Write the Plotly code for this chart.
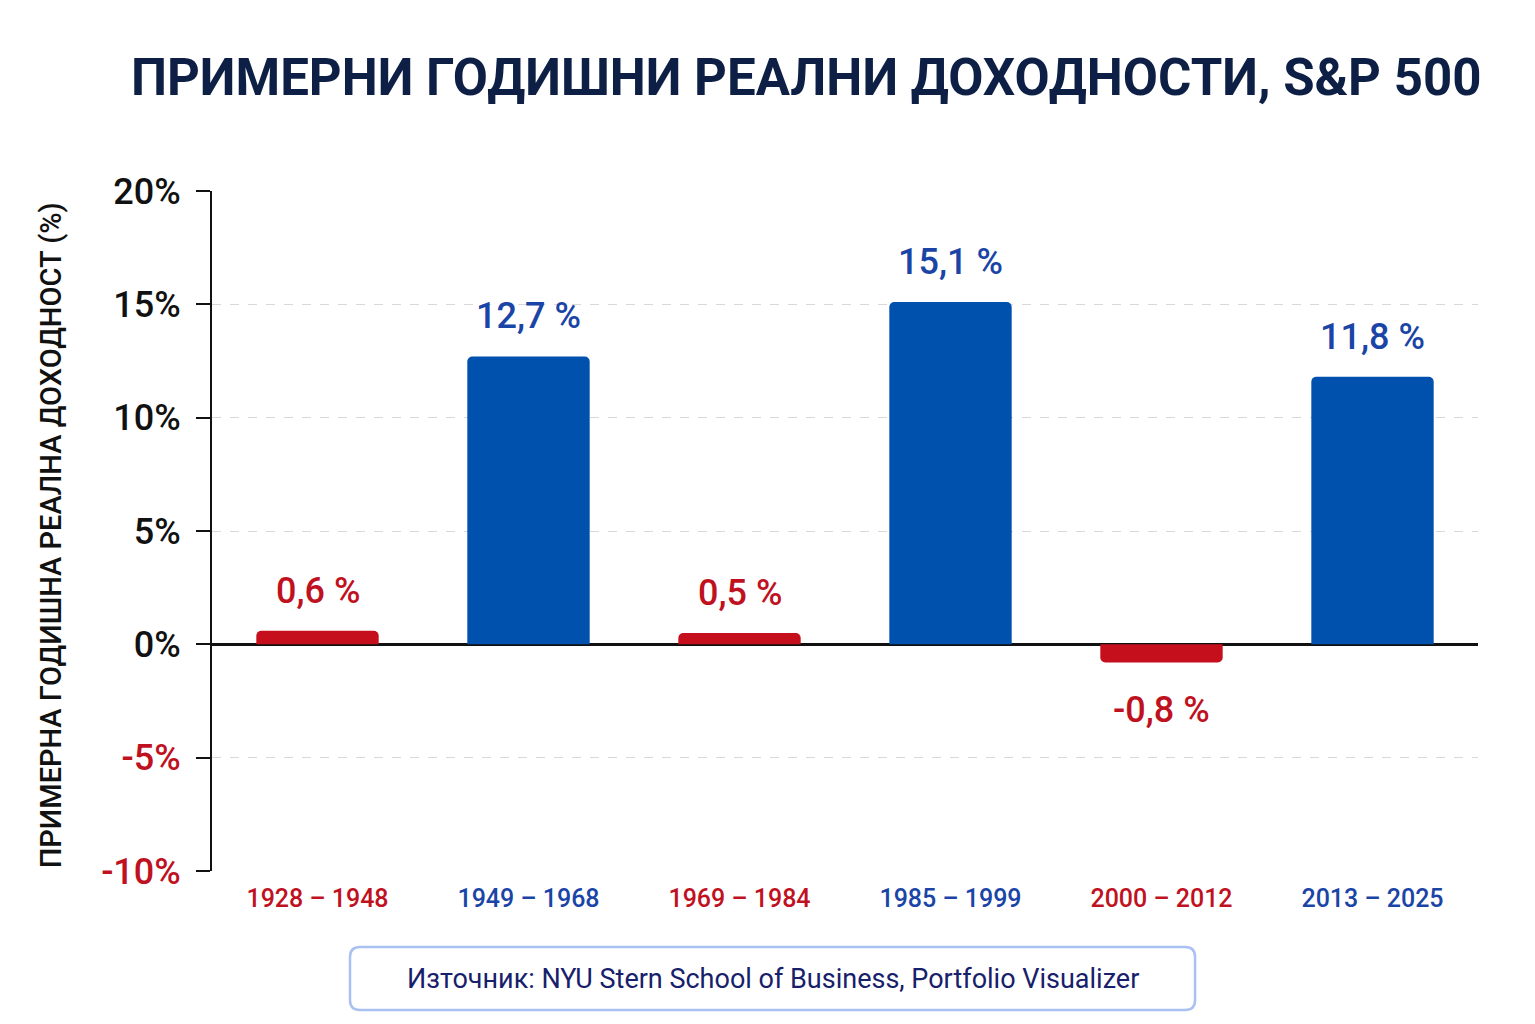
import plotly.graph_objects as go

# data
periods = ['1928 – 1948', '1949 – 1968', '1969 – 1984', '1985 – 1999', '2000 – 2012', '2013 – 2025']
returns = [0.6, 12.7, 0.5, 15.1, -0.8, 11.8]
y_ticks = [-10, -5, 0, 5, 10, 15, 20]

RED = '#c50f1c'
BLUE = '#0051ad'
RED_TXT = '#c0111f'
BLUE_TXT = '#1a45a6'
NAVY = '#0d1f45'

# colour by sign / size
bar_col = [BLUE if v > 5 else RED for v in returns]
txt_col = [BLUE_TXT if v > 5 else RED_TXT for v in returns]
labels = [('%.1f' % v).replace('.', ',') + ' %' for v in returns]

fig = go.Figure()
fig.add_trace(go.Bar(
    x=list(range(len(periods))), y=returns,
    marker=dict(color=bar_col, cornerradius=5, line=dict(width=0)),
    width=0.58, hoverinfo='skip',
))

# value labels, pushed a bit away from the bar ends
for i, v in enumerate(returns):
    fig.add_annotation(
        x=i, y=v, text=labels[i], showarrow=False,
        yanchor='middle', yshift=40 if v >= 0 else -48,
        font=dict(family='Roboto', size=36, color=txt_col[i], weight=500),
    )

x_text = ["<span style='color:%s'>%s</span>" % (c, p) for p, c in zip(periods, txt_col)]
y_text = ["<span style='color:%s'>%d%%</span>" % (RED_TXT if t < 0 else '#111111', t) for t in y_ticks]

fig.update_xaxes(
    range=[-0.5, 5.5], tickvals=list(range(len(periods))), ticktext=x_text,
    tickfont=dict(family='Roboto', size=25, weight=500), showgrid=False, showline=False,
    ticks='', zeroline=False, ticklabelstandoff=10,
)
fig.update_yaxes(
    range=[-10, 20], tickvals=y_ticks, ticktext=y_text,
    tickfont=dict(family='Roboto', size=36, weight=500), showgrid=True,
    gridcolor='#d8d8d8', griddash='dash', gridwidth=1,
    showline=True, linecolor='#111111', linewidth=2,
    ticks='outside', ticklen=14, tickcolor='#111111', tickwidth=2,
    ticklabelstandoff=8,
    zeroline=True, zerolinecolor='#111111', zerolinewidth=3,
)

# y axis title as rotated annotation
fig.add_annotation(
    text='ПРИМЕРНА ГОДИШНА РЕАЛНА ДОХОДНОСТ (%)', textangle=-90,
    xref='paper', yref='paper', x=-0.127, y=0.494, showarrow=False,
    xanchor='center', yanchor='middle',
    font=dict(family='Roboto', size=29, color='#111111', weight=500),
)

# source box
x0, x1, y0, y1 = 0.109, 0.7765, -0.2044, -0.1118
rx, ry = 10 / 1266, 10 / 680
path = ('M %f,%f L %f,%f Q %f,%f %f,%f L %f,%f Q %f,%f %f,%f L %f,%f Q %f,%f %f,%f L %f,%f Q %f,%f %f,%f Z'
        % (x0 + rx, y0, x1 - rx, y0, x1, y0, x1, y0 + ry, x1, y1 - ry, x1, y1, x1 - rx, y1,
           x0 + rx, y1, x0, y1, x0, y1 - ry, x0, y0 + ry, x0, y0, x0 + rx, y0))
fig.add_shape(type='path', path=path, xref='paper', yref='paper',
              line=dict(color='#a9c1f2', width=2.5), fillcolor='white')
fig.add_annotation(
    text='Източник: NYU Stern School of Business, Portfolio Visualizer',
    xref='paper', yref='paper', x=(x0 + x1) / 2, y=(y0 + y1) / 2, showarrow=False,
    xanchor='center', yanchor='middle',
    font=dict(family='Roboto', size=27, color='#17206b'),
)

# page body has an 8px margin, so margins are shifted to keep the plot where it is in the reference
fig.update_layout(
    width=1535, height=1024,
    margin=dict(l=204, r=65, t=183, b=161),
    paper_bgcolor='white', plot_bgcolor='white',
    showlegend=False,
    title=dict(
        text='ПРИМЕРНИ ГОДИШНИ РЕАЛНИ ДОХОДНОСТИ, S&P 500',
        xref='container', yref='container', x=0.52, y=0.932,
        xanchor='center', yanchor='middle',
        font=dict(family='Roboto', size=51, color=NAVY, weight=700),
    ),
)

fig.write_html('out.html')
